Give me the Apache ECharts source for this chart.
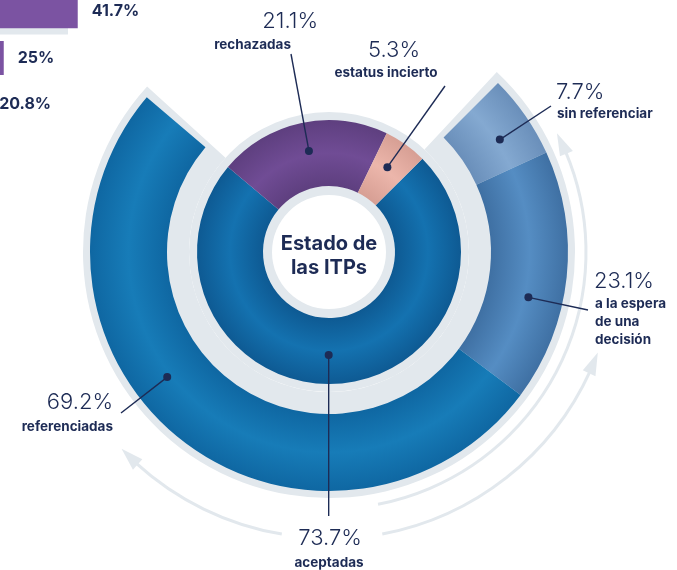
<!DOCTYPE html>
<html>
<head>
<meta charset="utf-8">
<script src="https://cdn.jsdelivr.net/npm/echarts@6/dist/echarts.min.js"></script>
<style>
  html, body { margin: 0; padding: 0; background: #fff; }
  #chart { width: 677px; height: 570px; }
</style>
</head>
<body>
<div id="chart"></div>
<script>
// anillo interior: estado de las ITPs
const innerNames = ['aceptadas', 'rechazadas', 'estatus incierto']
const innerValues = [73.7, 21.1, 5.3]
// anillo exterior: desglose de las aceptadas
const outerNames = ['sin referenciar', 'a la espera\nde una\ndecisión', 'referenciadas']
const outerValues = [7.7, 23.1, 69.2]
// trozo de la gráfica de barras vecina (cortada arriba a la izquierda)
const barCats = ['1', '2', '3']
const barValues = [41.7, 25, 20.8]
const barTrack = [39.5]

const TEXT = '#1d2b55'
const GRAY = '#e2e8ed'
const FONT = 'Inter, "Noto Sans", sans-serif'
const C = [329, 252]
const START = 45

// edge / middle colour of each ring slice
const innerColors = [['#0e5a93', '#1472b0'], ['#5e3f7f', '#704c95'], ['#d79f94', '#ecb6ab']]
const outerColors = [['#6a8fba', '#84a9d1'], ['#3f70a3', '#558dc3'], ['#0f67a2', '#177cb8']]

function ring(edge, mid, r0, r1) {
  return {
    type: 'radial', x: C[0], y: C[1], r: r1, global: true,
    colorStops: [
      { offset: r0 / r1, color: edge },
      { offset: (r0 + r1) / 2 / r1, color: mid },
      { offset: 1, color: edge }
    ]
  }
}

const chart = echarts.init(document.getElementById('chart'))
const acceptedSpan = 3.6 * innerValues[0]

const plain = {
  label: { show: false },
  labelLine: { show: false },
  emphasis: { disabled: true },
  silent: true
}

chart.setOption({
  animation: false,
  backgroundColor: '#fff',
  grid: [
    { left: -107, top: -12, width: 443, height: 140, outerBoundsMode: 'none', containLabel: false },
    { left: -107, top: 27.5, width: 443, height: 7, outerBoundsMode: 'none', containLabel: false }
  ],
  xAxis: [
    { type: 'value', min: 0, max: 100, show: false, gridIndex: 0 },
    { type: 'value', min: 0, max: 100, show: false, gridIndex: 1 }
  ],
  yAxis: [
    { type: 'category', data: barCats, inverse: true, show: false, gridIndex: 0 },
    { type: 'category', data: ['1'], show: false, gridIndex: 1 }
  ],
  series: [
    {
      type: 'bar', xAxisIndex: 1, yAxisIndex: 1, barWidth: 7, silent: true,
      itemStyle: { color: GRAY }, data: barTrack
    },
    {
      type: 'bar', xAxisIndex: 0, yAxisIndex: 0, barWidth: 34, silent: true,
      itemStyle: { color: '#7b53a2' },
      label: {
        show: true, position: 'right', distance: 14,
        formatter: p => p.value + '%',
        color: TEXT, fontFamily: FONT, fontWeight: 'bold', fontSize: 16
      },
      data: barValues
    },
    Object.assign({
      type: 'pie', center: C, radius: [140, 246],
      startAngle: START + 2, endAngle: START - acceptedSpan - 2,
      itemStyle: { color: GRAY, borderWidth: 0 }, data: [1]
    }, plain),
    Object.assign({
      type: 'pie', center: C, radius: [57, 140],
      itemStyle: { color: GRAY, borderWidth: 0 }, data: [1]
    }, plain),
    Object.assign({
      id: 'inner', type: 'pie', center: C, radius: [66, 132], startAngle: START,
      data: innerValues.map((v, i) => ({
        name: innerNames[i], value: v,
        itemStyle: { color: ring(innerColors[i][0], innerColors[i][1], 66, 132), borderWidth: 0 }
      }))
    }, plain),
    Object.assign({
      id: 'outer', type: 'pie', center: C, radius: [162, 239],
      startAngle: START, endAngle: START - acceptedSpan,
      data: outerValues.map((v, i) => ({
        name: outerNames[i], value: v,
        itemStyle: { color: ring(outerColors[i][0], outerColors[i][1], 162, 239), borderWidth: 0 }
      }))
    }, plain)
  ]
})

// dot on each slice, taken from the pie layout (frac = how far along the slice)
function sliceDot(seriesIndex, i, frac) {
  const l = chart.getModel().getSeriesByIndex(seriesIndex).getData().getItemLayout(i)
  const a = l.startAngle + (l.endAngle - l.startAngle) * frac
  const rr = (l.r0 + l.r) / 2 + 4
  return [l.cx + rr * Math.cos(a), l.cy + rr * Math.sin(a)]
}

// where each leader line ends and where its text goes
const innerSpots = [
  { frac: 0.51, end: null, pct: [330, 538, 'center'], name: [329, 563, 'center'] },
  { frac: 0.51, end: [291, 54], pct: [318, 21, 'right'], name: [291, 45, 'right'] },
  { frac: 0.45, end: [445, 86], pct: [394, 50, 'center'], name: [386, 73, 'center'] }
]
const outerSpots = [
  { frac: 0.57, end: [551, 106], pct: [556, 92, 'left'], name: [557, 114, 'left'] },
  { frac: 0.61, end: [588, 310], pct: [594, 281, 'left'], name: [595, 295, 'left'] },
  { frac: 0.575, end: [121, 413], pct: [113, 402, 'right'], name: [113, 427, 'right'] }
]

const graphic = []
function addLabel(dot, spot, value, name) {
  const end = spot.end || [dot[0], 516]
  graphic.push({ type: 'line', silent: true, z: 50,
    shape: { x1: dot[0], y1: dot[1], x2: end[0], y2: end[1] },
    style: { stroke: TEXT, lineWidth: 1.4 } })
  graphic.push({ type: 'circle', silent: true, z: 51,
    shape: { cx: dot[0], cy: dot[1], r: 4 }, style: { fill: TEXT } })
  graphic.push({ type: 'text', silent: true, z: 51,
    style: { text: value + '%', x: spot.pct[0], y: spot.pct[1], textAlign: spot.pct[2],
      textVerticalAlign: 'middle', fill: TEXT, font: '300 22px ' + FONT } })
  graphic.push({ type: 'text', silent: true, z: 51,
    style: { text: name, x: spot.name[0], y: spot.name[1], textAlign: spot.name[2],
      textVerticalAlign: name.indexOf('\n') > 0 ? 'top' : 'middle', lineHeight: 18,
      fill: TEXT, font: 'bold 13.5px ' + FONT } })
}
innerValues.forEach((v, i) => addLabel(sliceDot(4, i, innerSpots[i].frac), innerSpots[i], v, innerNames[i]))
outerValues.forEach((v, i) => addLabel(sliceDot(5, i, outerSpots[i].frac), outerSpots[i], v, outerNames[i]))

// curved arrows around the chart
function rad(deg) { return (deg - 90) * Math.PI / 180 }
function pt(r, deg) { return [C[0] + r * Math.cos(rad(deg)), C[1] + r * Math.sin(rad(deg))] }
const arrows = [
  { r: 257, from: 67, to: 169, tip: 62.5 },
  { r: 287, from: 114.5, to: 169.3, tip: 110.5 },
  { r: 286, from: 189.5, to: 222.5, tip: 226.5 }
]
arrows.forEach(a => {
  graphic.push({ type: 'arc', silent: true, z: 5,
    shape: { cx: C[0], cy: C[1], r: a.r, startAngle: rad(a.from), endAngle: rad(a.to), clockwise: true },
    style: { stroke: GRAY, lineWidth: 3, fill: null } })
  const base = a.tip < a.from ? a.from + 0.5 : a.to - 0.5
  graphic.push({ type: 'polygon', silent: true, z: 5,
    shape: { points: [pt(a.r, a.tip), pt(a.r - 7, base), pt(a.r + 7, base)] },
    style: { fill: GRAY } })
})

graphic.push({ type: 'text', silent: true, z: 51,
  style: { text: 'Estado de\nlas ITPs', x: C[0], y: 256, textAlign: 'center',
    textVerticalAlign: 'middle', lineHeight: 24, fill: TEXT, font: 'bold 20px ' + FONT } })

chart.setOption({ graphic: graphic })
</script>
</body>
</html>
